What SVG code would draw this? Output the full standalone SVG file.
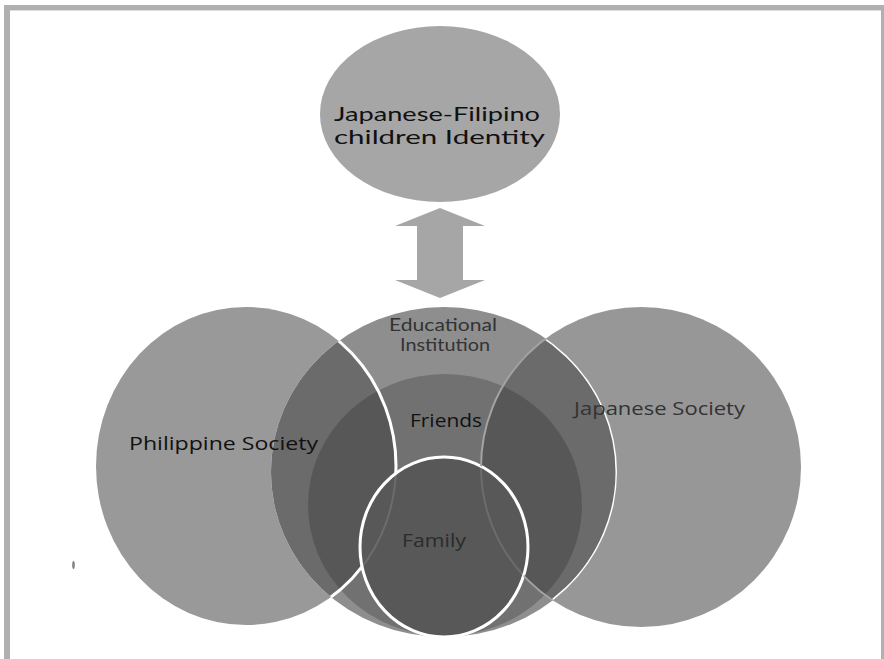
<svg xmlns="http://www.w3.org/2000/svg" width="884" height="659" viewBox="0 0 884 659">
<style>
.lbl{font-family:"Open Sans","Liberation Sans",sans-serif;font-size:18px;}
.edu{font-family:"Lato","Open Sans","Liberation Sans",sans-serif;font-size:16.5px;fill:#333;}
.top{font-family:"Lato","Open Sans","Liberation Sans",sans-serif;font-size:19px;fill:#111;}
.frame{fill:#b0b0b0;}
</style>
<defs>
<clipPath id="clipE"><ellipse cx="444" cy="472" rx="173" ry="165"/></clipPath>
<clipPath id="clipF"><ellipse cx="445" cy="505" rx="137" ry="131"/></clipPath>
<clipPath id="clipJ"><circle cx="641" cy="467" r="160"/></clipPath>
<clipPath id="clipFam"><ellipse cx="444" cy="547" rx="84" ry="90"/></clipPath>
<mask id="notE" maskUnits="userSpaceOnUse" x="0" y="0" width="884" height="659">
<rect x="0" y="0" width="884" height="659" fill="#fff"/>
<ellipse cx="444" cy="472" rx="173" ry="165" fill="#000"/>
</mask>
<mask id="eNotFam" maskUnits="userSpaceOnUse" x="0" y="0" width="884" height="659">
<ellipse cx="444" cy="472" rx="173" ry="165" fill="#fff"/>
<ellipse cx="444" cy="547" rx="84" ry="90" fill="#000"/>
</mask>
</defs>
<rect x="0" y="0" width="884" height="659" fill="#fff"/>
<g id="frame">
<rect class="frame" x="4" y="5" width="880" height="5"/>
<rect x="10" y="10" width="871" height="1" fill="#dcdcdc"/>
<rect class="frame" x="4" y="5" width="6" height="654"/>
<rect class="frame" x="881" y="5" width="3" height="654"/>
</g>
<g id="identity">
<ellipse cx="440" cy="114" rx="120" ry="88" fill="#a6a6a6"/>
<text class="top" x="334" y="121" textLength="206" lengthAdjust="spacingAndGlyphs">Japanese-Filipino</text>
<text class="top" x="334" y="144" textLength="211" lengthAdjust="spacingAndGlyphs">children Identity</text>
</g>
<g id="connectors">
<polygon points="440,208 485,226 463,226 463,280 485,280 440,298 395,280 417,280 417,226 395,226" fill="#a6a6a6"/>
</g>
<g id="educational-institution">
<ellipse cx="444" cy="472" rx="173" ry="165" fill="#8e8e8e"/>
<g clip-path="url(#clipE)">
<ellipse cx="246" cy="466" rx="150" ry="159" fill="#6b6b6b"/>
<circle cx="641" cy="467" r="160" fill="#6b6b6b"/>
</g>
<text class="edu" x="389" y="330.5" textLength="108" lengthAdjust="spacingAndGlyphs">Educational</text>
<text class="edu" x="400" y="350.5" textLength="90" lengthAdjust="spacingAndGlyphs">Institution</text>
</g>
<g id="friends">
<ellipse cx="445" cy="505" rx="137" ry="131" fill="#717171"/>
<g clip-path="url(#clipF)">
<ellipse cx="246" cy="466" rx="150" ry="159" fill="#575757"/>
<circle cx="641" cy="467" r="160" fill="#575757"/>
</g>
<text class="lbl" x="410" y="427" fill="#111" textLength="72" lengthAdjust="spacingAndGlyphs">Friends</text>
</g>
<g id="edu-edge" clip-path="url(#clipJ)">
<ellipse cx="444" cy="472" rx="173" ry="165" fill="none" stroke="#fff" stroke-width="3"/>
</g>
<g id="family">
<ellipse cx="444" cy="547" rx="84" ry="90" fill="#585858"/>
<g clip-path="url(#clipFam)" fill="none" stroke="#6c6c6c" stroke-width="2">
<ellipse cx="246" cy="466" rx="150" ry="159"/>
<circle cx="641" cy="467" r="160"/>
</g>
<ellipse cx="444" cy="547" rx="84" ry="90" fill="none" stroke="#fff" stroke-width="3"/>
<text class="lbl" x="402" y="547" fill="#2b2b2b" textLength="64" lengthAdjust="spacingAndGlyphs">Family</text>
</g>
<g id="japanese-society">
<circle cx="641" cy="467" r="160" fill="#979797" mask="url(#notE)"/>
<g mask="url(#eNotFam)">
<circle cx="641" cy="467" r="160" fill="none" stroke="#a3a3a3" stroke-width="2"/>
</g>
<text class="lbl" x="574" y="415" fill="#333" textLength="171" lengthAdjust="spacingAndGlyphs">Japanese Society</text>
</g>
<g id="philippine-society">
<ellipse cx="246" cy="466" rx="150" ry="159" fill="#999" mask="url(#notE)"/>
<g mask="url(#eNotFam)">
<ellipse cx="246" cy="466" rx="150" ry="159" fill="none" stroke="#fff" stroke-width="3"/>
</g>
<text class="lbl" x="129" y="450" fill="#111" textLength="189" lengthAdjust="spacingAndGlyphs">Philippine Society</text>
</g>
<ellipse cx="73.5" cy="565" rx="1.3" ry="4" fill="#808080"/>
</svg>
